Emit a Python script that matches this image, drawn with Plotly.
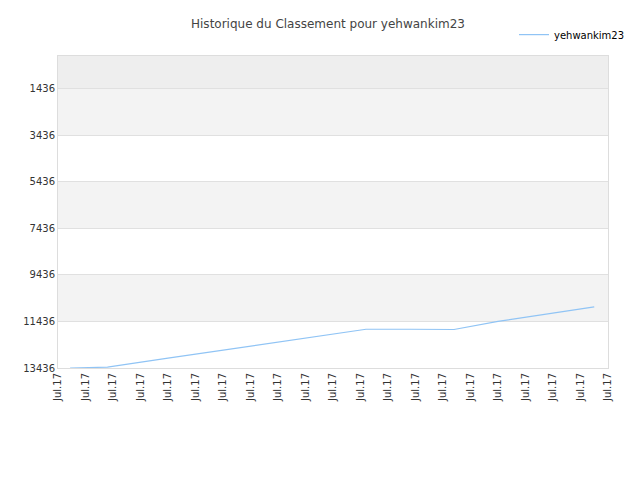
import plotly.graph_objects as go

tick_pos = list(range(21))
tick_text = ["Jul.17"] * 21
x_vals = [0.44, 1.8, 4.0, 6.5, 9.0, 11.2, 12.8, 14.4, 16.0, 17.8, 19.5]
ranks = [13436, 13400, 13010, 12580, 12160, 11770, 11770, 11780, 11430, 11110, 10810]
y_ticks = [1436, 3436, 5436, 7436, 9436, 11436, 13436]

fig = go.Figure()
fig.add_trace(go.Scatter(x=x_vals, y=ranks, mode="lines", name="yehwankim23",
                         line=dict(color="#90c4f5", width=1.2)))

# banded background
bands = [(20, 1436, "#eeeeee"), (1436, 3436, "#f3f3f3"), (5436, 7436, "#f3f3f3"),
         (9436, 11436, "#f3f3f3")]
for y0, y1, c in bands:
    fig.add_shape(type="rect", xref="paper", yref="y", x0=0, x1=1, y0=y0, y1=y1,
                  fillcolor=c, line_width=0, layer="below")

fig.update_layout(
    width=640, height=480,
    title=dict(text="Historique du Classement pour yehwankim23", x=0.5, y=0.975,
               font=dict(family="DejaVu Sans", size=12, color="#444")),
    font=dict(family="DejaVu Sans", size=10, color="#333"),
    paper_bgcolor="white", plot_bgcolor="white",
    margin=dict(l=50, r=40, t=40, b=120),
    showlegend=True,
    legend=dict(x=1.04, y=1.115, xanchor="right", yanchor="top",
                font=dict(size=10, color="#000"), bgcolor="rgba(0,0,0,0)"),
    xaxis=dict(range=[0, 20], tickvals=tick_pos, ticktext=tick_text, tickangle=-90,
               showgrid=False, zeroline=False, showline=True, linecolor="#ddd",
               mirror=True, automargin=False),
    yaxis=dict(range=[13436, 20], tickvals=y_ticks, ticktext=[str(v) for v in y_ticks],
               autorange=False, showgrid=True, gridcolor="#e0e0e0", zeroline=False,
               showline=True, linecolor="#ddd", mirror=True, automargin=False),
)
fig.write_html("out.html")
